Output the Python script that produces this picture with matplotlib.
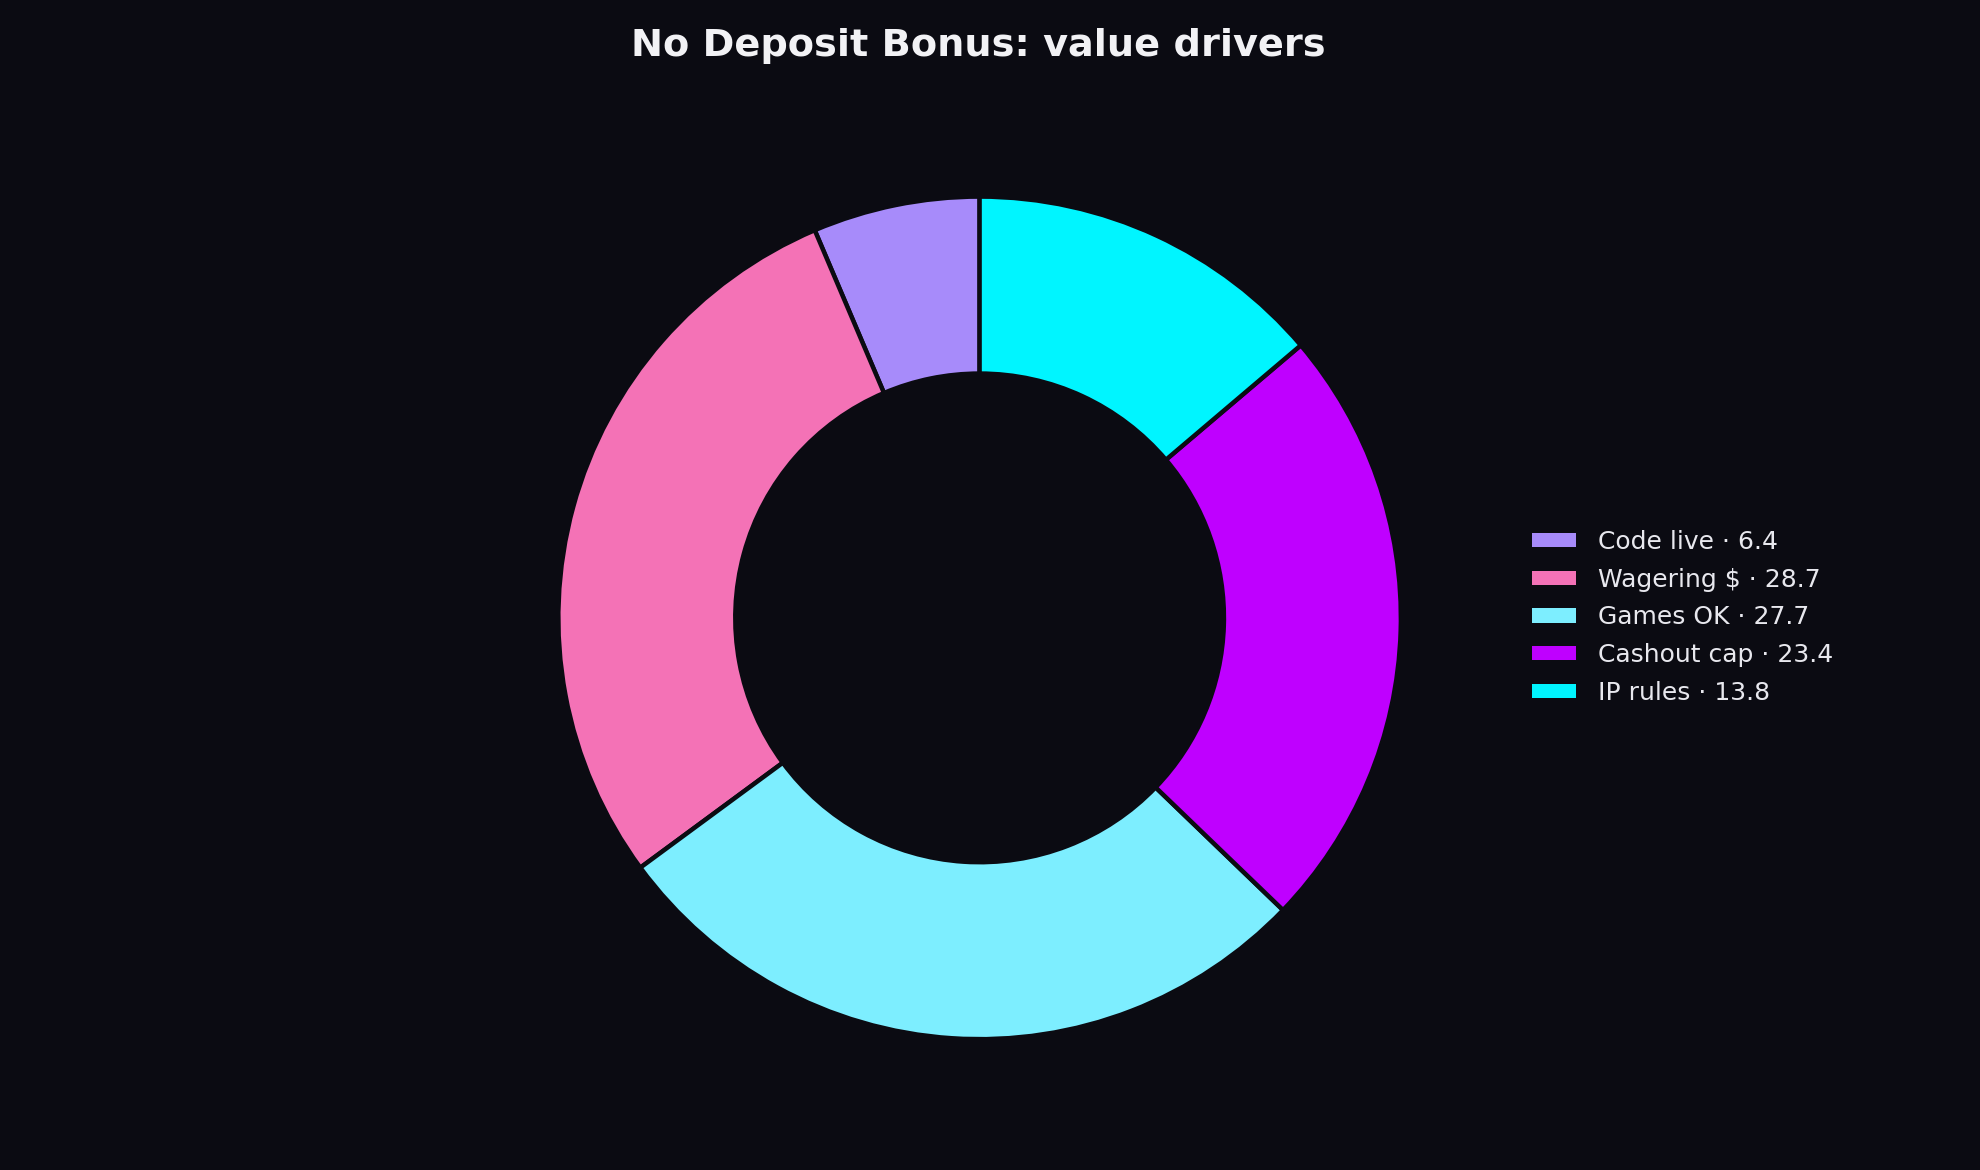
import matplotlib
matplotlib.use("Agg")
import matplotlib.pyplot as plt

categories = ["Code live", "Wagering $", "Games OK", "Cashout cap", "IP rules"]
values = [6.4, 28.7, 27.7, 23.4, 13.8]
colors = ["#a78bfa", "#f472b6", "#7deeff", "#bf00ff", "#00f5ff"]
title = "No Deposit Bonus: value drivers"

bg = "#0b0b12"
fig = plt.figure(figsize=(19.8, 11.7), dpi=100, facecolor=bg)
ax = fig.add_axes([0.2622, 0.0783, 0.4651, 0.7872])
ax.set_facecolor(bg)
wedges, _ = ax.pie(values, colors=colors, startangle=90, counterclock=True,
                   radius=1.0,
                   wedgeprops=dict(width=0.42, edgecolor=bg, linewidth=3.2))
ax.set_xlim(-1.093, 1.093)
ax.set_ylim(-1.093, 1.093)
ax.set_aspect("equal")
ax.axis("off")

labels = [f"{c} \u00b7 {v}" for c, v in zip(categories, values)]
leg = fig.legend(wedges, labels, loc="center left", bbox_to_anchor=(0.7738, 0.4724),
                 frameon=False, fontsize=18, handlelength=1.77, handleheight=0.5,
                 handletextpad=0.86, labelspacing=0.55, borderpad=0, borderaxespad=0)
for t in leg.get_texts():
    t.set_color("#e8e8ee")
for h in leg.legend_handles:
    h.set_linewidth(0)

fig.text(0.494, 1 - 45.5 / 1170, title, ha="center", va="center",
         fontsize=27.5, fontweight="bold", color="#f2f2f5")

fig.savefig("out.png", dpi=100, facecolor=bg)
